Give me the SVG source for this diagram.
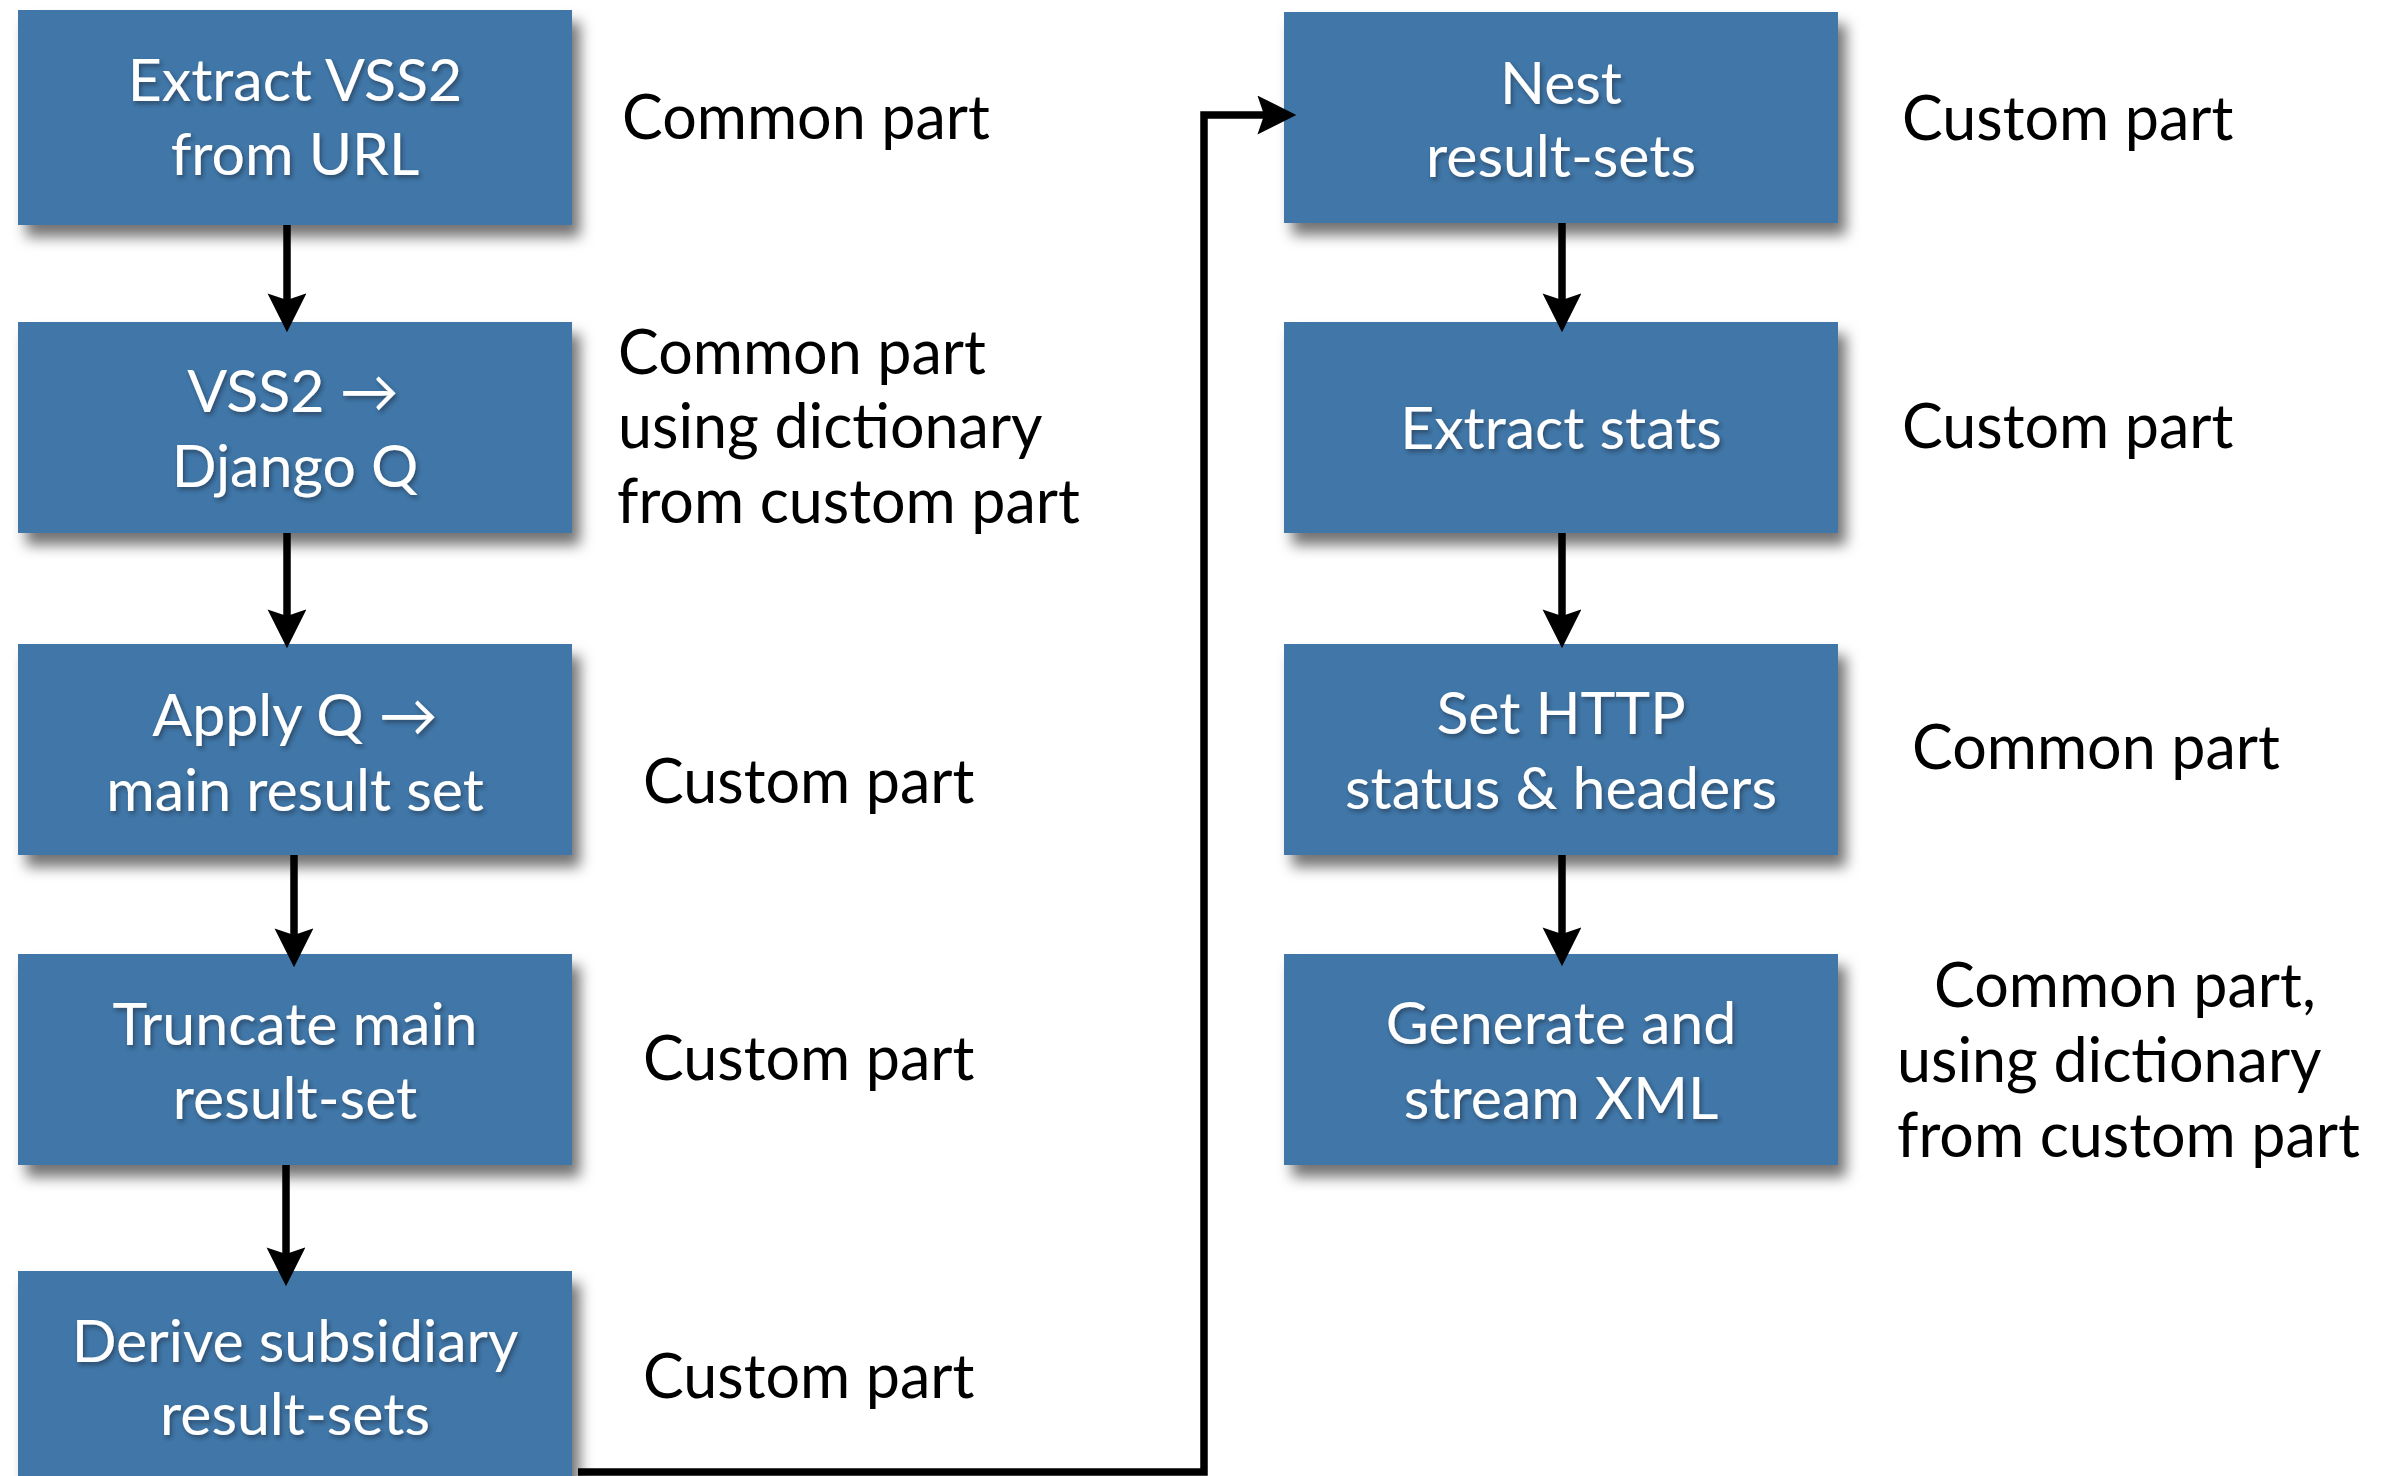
<svg xmlns="http://www.w3.org/2000/svg" width="2386" height="1476" viewBox="0 0 2386 1476">
<defs>
<style>
.box{fill:#4177a8;filter:url(#bshadow)}
.bt{fill:#ffffff;font-family:Lato,"Open Sans",sans-serif;font-size:59px;text-anchor:middle;filter:url(#tshadow)}
.lb{fill:#000000;font-family:Lato,"Open Sans",sans-serif;font-size:61px}
.conn{fill:none;stroke:#000000;stroke-width:7.5;marker-end:url(#ah)}
</style>
<filter id="bshadow" x="-10%" y="-10%" width="130%" height="140%">
<feDropShadow dx="8" dy="12" stdDeviation="7" flood-color="#000000" flood-opacity="0.55"/>
</filter>
<filter id="tshadow" x="-10%" y="-30%" width="120%" height="160%">
<feDropShadow dx="2" dy="3" stdDeviation="2" flood-color="#1a2a3a" flood-opacity="0.55"/>
</filter>
<marker id="ah" markerUnits="userSpaceOnUse" markerWidth="40" markerHeight="40" viewBox="0 0 36 36" refX="14" refY="17.5" orient="auto">
<path d="M0 0 L35 17.5 L0 35 L6 17.5 Z" fill="#000000"/>
</marker>
</defs>
<rect width="2386" height="1476" fill="#ffffff"/>

<g id="n-extract-vss2">
<rect class="box" x="18" y="10" width="554" height="215"/>
<text class="bt" x="295" y="101">Extract VSS2</text>
<text class="bt" x="295" y="175">from URL</text>
</g>
<g id="n-vss2-django">
<rect class="box" x="18" y="322" width="554" height="211"/>
<text class="bt" x="293" y="412">VSS2 →</text>
<text class="bt" x="295" y="487">Django Q</text>
</g>
<g id="n-apply-q">
<rect class="box" x="18" y="644" width="554" height="211"/>
<text class="bt" x="295" y="736">Apply Q →</text>
<text class="bt" x="295" y="811">main result set</text>
</g>
<g id="n-truncate">
<rect class="box" x="18" y="954" width="554" height="211"/>
<text class="bt" x="295" y="1045">Truncate main</text>
<text class="bt" x="295" y="1119">result-set</text>
</g>
<g id="n-derive">
<rect class="box" x="18" y="1271" width="554" height="215"/>
<text class="bt" x="295" y="1362">Derive subsidiary</text>
<text class="bt" x="295" y="1435">result-sets</text>
</g>
<g id="n-nest">
<rect class="box" x="1284" y="12" width="554" height="211"/>
<text class="bt" x="1561" y="104">Nest</text>
<text class="bt" x="1561" y="177">result-sets</text>
</g>
<g id="n-extract-stats">
<rect class="box" x="1284" y="322" width="554" height="211"/>
<text class="bt" x="1561" y="449">Extract stats</text>
</g>
<g id="n-http">
<rect class="box" x="1284" y="644" width="554" height="211"/>
<text class="bt" x="1561" y="734">Set HTTP</text>
<text class="bt" x="1561" y="809">status &amp; headers</text>
</g>
<g id="n-generate">
<rect class="box" x="1284" y="954" width="554" height="211"/>
<text class="bt" x="1561" y="1044">Generate and</text>
<text class="bt" x="1561" y="1119">stream XML</text>
</g>

<g id="labels">
<text class="lb" x="622" y="139">Common part</text>
<text class="lb" x="618" y="374">Common part</text>
<text class="lb" x="618" y="448">using dictionary</text>
<text class="lb" x="617" y="523">from custom part</text>
<text class="lb" x="643" y="803">Custom part</text>
<text class="lb" x="643" y="1080">Custom part</text>
<text class="lb" x="643" y="1398">Custom part</text>
<text class="lb" x="1902" y="140">Custom part</text>
<text class="lb" x="1902" y="448">Custom part</text>
<text class="lb" x="1912" y="769">Common part</text>
<text class="lb" x="1934" y="1007">Common part,</text>
<text class="lb" x="1897" y="1082">using dictionary</text>
<text class="lb" x="1897" y="1157">from custom part</text>
</g>

<g id="connectors">
<path class="conn" d="M287 225 V309"/>
<path class="conn" d="M287 533 V625"/>
<path class="conn" d="M294 855 V944"/>
<path class="conn" d="M286 1165 V1263"/>
<path class="conn" d="M1562 223 V309"/>
<path class="conn" d="M1562 533 V625"/>
<path class="conn" d="M1562 855 V943"/>
<path class="conn" d="M578 1472 H1204 V115 H1273"/>
</g>
</svg>
